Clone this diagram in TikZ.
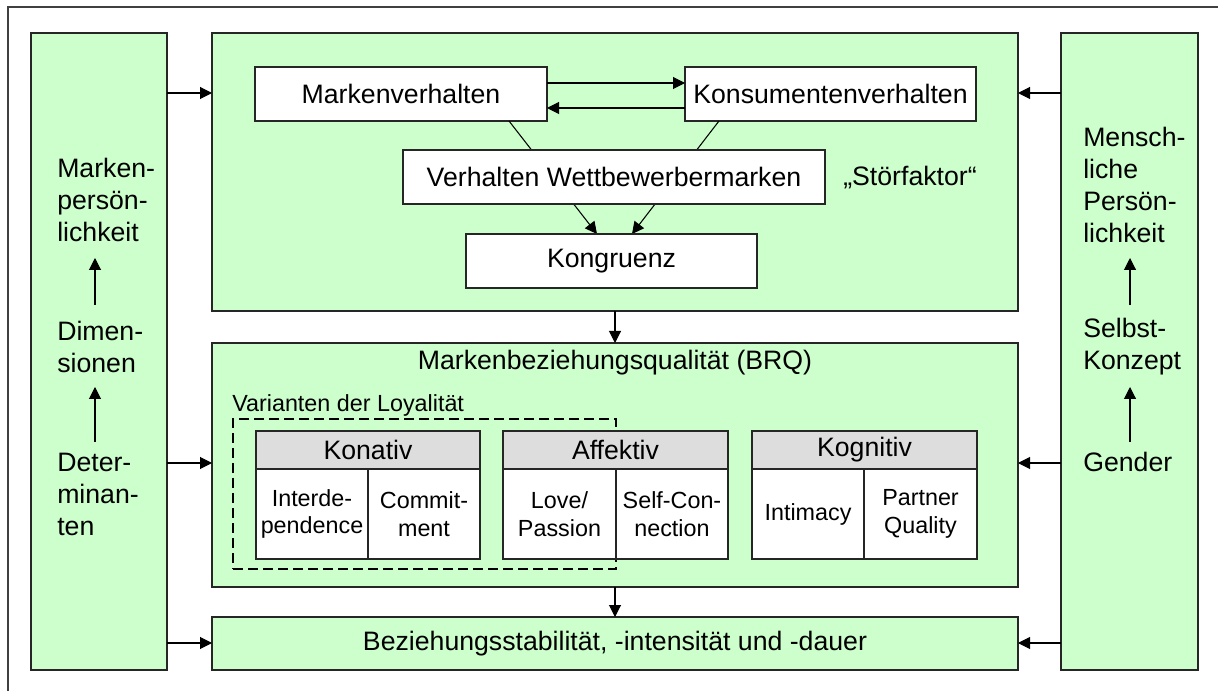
\documentclass[tikz,border=0pt]{standalone}
\usepackage{fontspec}
\setmainfont{Liberation Sans}
\usetikzlibrary{arrows.meta,fit}
\definecolor{grn}{HTML}{CCFFCC}
\definecolor{hdr}{HTML}{DDDDDD}
\begin{document}
\begin{tikzpicture}[x=0.75pt,y=-0.75pt,
  box/.style={draw=black!85, line width=0.9pt, inner sep=0pt, outer sep=0pt},
  gbox/.style={box, fill=grn},
  wbox/.style={box, fill=white},
  hbox/.style={box, fill=hdr},
  arr/.style={-{Triangle[length=9pt,width=9pt]}, line width=0.8pt},
  big/.style={font=\fontsize{20}{24}\selectfont, inner sep=0pt},
  sm/.style={font=\fontsize{17.5}{20.5}\selectfont, align=center, inner sep=0pt},
  coltxt/.style={big, align=left, anchor=west},
  dashbox/.style={draw=black, line width=1.1pt, dash pattern=on 7.5pt off 3.75pt, inner sep=0pt, outer sep=0pt}]
\useasboundingbox (0,0) rectangle (1218,691);
\fill[white] (0,0) rectangle (1218,691);
\draw[black!75, line width=1pt] (8,691) -- (8,7) -- (1218,7);

% columns and main boxes
\node[gbox, fit={(31,33) (167,670)}] (lc) {};
\node[gbox, fit={(1061,33) (1198,670)}] (rc) {};
\node[gbox, fit={(212,33) (1018,311)}] (top) {};
\node[gbox, fit={(212,343) (1018,587)}] (mid) {};
\node[gbox, fit={(212,617) (1018,670)}] (bot) {};
\node[big] (bott) at (bot) {Beziehungsstabilität, -intensität und -dauer};

% top box content
\node[wbox, fit={(255,67) (547,121)}] (mv) {};
\node[big] (mvt) at (mv) {Markenverhalten};
\node[wbox, fit={(685,67) (976,121)}] (kv) {};
\node[big] (kvt) at (kv) {Konsumentenverhalten};
\coordinate (d1s) at (509,121); \coordinate (d1e) at (597,234);
\coordinate (d2s) at (719,121); \coordinate (d2e) at (632,234);
\draw[arr] (d1s) -- (d1e);
\draw[arr] (d2s) -- (d2e);
\node[wbox, fit={(403,150) (825,204)}] (vw) {};
\node[big] (vwt) at (vw) {Verhalten Wettbewerbermarken};
\node[wbox, fit={(466,234) (757,288)}] (ko) {};
\node[big] (kot) at (ko) {Kongruenz};
\node[big] (st) at (910,178) {„Störfaktor“};
\draw[arr] ([yshift=8.25pt]mv.east) -- ([yshift=8.25pt]kv.west);
\draw[arr] ([yshift=-10.5pt]kv.west) -- ([yshift=-10.5pt]mv.east);

% middle box content
\node[big] (brq) at (615,363) {Markenbeziehungsqualität (BRQ)};
\node[font=\fontsize{17.5}{21}\selectfont, anchor=west, inner sep=0pt] (var) at (232,405) {Varianten der Loyalität};
\node[dashbox, fit={(233,419) (616,569)}] (loy) {};

\node[hbox, fit={(256,431) (480,469)}] (kon) {};
\node[big] (kont) at (kon) {Konativ};
\node[wbox, fit={(256,469) (368,559)}] (kon1) {};
\node[sm] (kon1t) at (kon1) {Interde-\\pendence};
\node[wbox, fit={(368,469) (480,559)}] (kon2) {};
\node[sm] (kon2t) at (kon2) {Commit-\\ment};

\node[hbox, fit={(503,431) (728,469)}] (aff) {};
\node[big] (afft) at (aff) {Affektiv};
\node[wbox, fit={(503,469) (616,559)}] (aff1) {};
\node[sm] (aff1t) at (aff1) {Love/\\Passion};
\node[wbox, fit={(616,469) (728,559)}] (aff2) {};
\node[sm] (aff2t) at (aff2) {Self-Con-\\nection};

\node[hbox, fit={(752,431) (977,469)}] (kog) {};
\node[big] (kogt) at (kog) {Kognitiv};
\node[wbox, fit={(752,469) (864,559)}] (kog1) {};
\node[sm] (kog1t) at (kog1) {Intimacy};
\node[wbox, fit={(864,469) (977,559)}] (kog2) {};
\node[sm] (kog2t) at (kog2) {Partner\\Quality};

% column texts
\node[coltxt] (mp) at (57,200) {Marken-\\persön-\\lichkeit};
\node[coltxt] (dim) at (57,347) {Dimen-\\sionen};
\node[coltxt] (det) at (57,494) {Deter-\\minan-\\ten};
\node[coltxt] (mpers) at (1083,185) {Mensch-\\liche\\Persön-\\lichkeit};
\node[coltxt] (sk) at (1083,347) {Selbst-\\Konzept};
\node[coltxt] (gen) at (1083,462) {Gender};

\coordinate (la1) at (95,442); \coordinate (la2) at (95,387);
\coordinate (la3) at (95,305); \coordinate (la4) at (95,258);
\coordinate (ra1) at (1130,442); \coordinate (ra2) at (1130,387);
\coordinate (ra3) at (1130,305); \coordinate (ra4) at (1130,258);
\draw[arr] (la1) -- (la2);
\draw[arr] (la3) -- (la4);
\draw[arr] (ra1) -- (ra2);
\draw[arr] (ra3) -- (ra4);

% connectors between columns and boxes
\coordinate (y1) at (0,93);
\coordinate (y2) at (0,463);
\coordinate (y3) at (0,643);
\draw[arr] (lc.east |- y1) -- (top.west |- y1);
\draw[arr] (lc.east |- y2) -- (mid.west |- y2);
\draw[arr] (lc.east |- y3) -- (bot.west |- y3);
\draw[arr] (rc.west |- y1) -- (top.east |- y1);
\draw[arr] (rc.west |- y2) -- (mid.east |- y2);
\draw[arr] (rc.west |- y3) -- (bot.east |- y3);
\draw[arr] (top.south) -- (mid.north);
\draw[arr] (mid.south) -- (bot.north);
\end{tikzpicture}
\end{document}
